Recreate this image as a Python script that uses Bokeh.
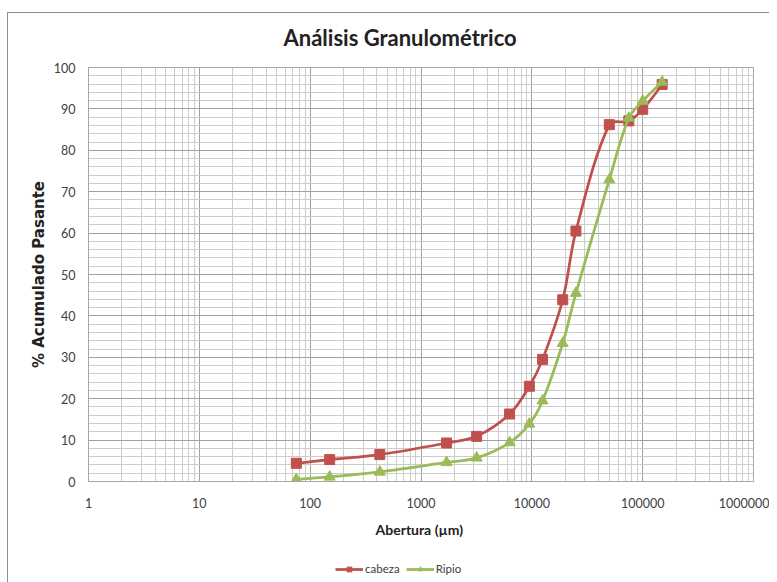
import numpy as np
from bokeh.plotting import figure
from bokeh.layouts import column
from bokeh.models import (FixedTicker, PrintfTickFormatter, Legend, LegendItem)
from bokeh.embed import file_html
from bokeh.resources import INLINE

# ---------------- data ----------------
abertura_um = [75, 150, 425, 1700, 3175, 6300, 9500, 12500, 19000, 25000,
               50000, 75000, 100000, 150000]
cabeza = [4.4, 5.3, 6.5, 9.3, 10.9, 16.3, 23.0, 29.5, 43.9, 60.5,
          86.2, 87.1, 89.9, 95.9]
ripio = [0.5, 1.1, 2.3, 4.6, 5.7, 9.4, 13.9, 19.5, 33.4, 45.5,
         72.9, 87.8, 91.9, 96.5]
x_major = [1, 10, 100, 1000, 10000, 100000, 1000000]
x_minor = [m * d for d in x_major[:-1] for m in range(2, 10)]
y_major = list(range(0, 101, 10))
y_minor = list(range(0, 101, 2))

title_text = "Análisis Granulométrico"
x_label = "Abertura  (µm)"
y_label = "% Acumulado Pasante"
series_names = ["cabeza", "Ripio"]

RED = "#C0504D"
GREEN = "#9BBB59"
FONT = "Lato"
BORDER = "#8c8c8c"

W, H_MAIN, H_LEG = 769, 541, 41
BL, BR, BT, BB = 88, 16, 67, 60
FRAME_W = W - BL - BR
FRAME_H = H_MAIN - BT - BB

p = figure(width=W, height=H_MAIN, x_axis_type="log", x_range=(1, 1e6),
           y_range=(0, 100), output_backend="svg", toolbar_location=None,
           min_border_left=BL, min_border_right=BR, min_border_top=BT,
           min_border_bottom=BB)
p.background_fill_color = "white"
p.border_fill_alpha = 0
p.outline_line_color = "#a6a6a6"
p.outline_line_width = 1

# title
p.title.text = title_text
p.title.align = "left"
p.title.offset = 195
p.title.standoff = 33
p.title.text_font = FONT
p.title.text_font_style = "bold"
p.title.text_font_size = "22px"
p.title.text_color = "#222222"

# axes
p.xaxis.ticker = FixedTicker(ticks=x_major, minor_ticks=x_minor)
p.yaxis.ticker = FixedTicker(ticks=y_major, minor_ticks=y_minor)
p.xaxis.formatter = PrintfTickFormatter(format="%d")
for ax in (p.xaxis[0], p.yaxis[0]):
    ax.axis_line_color = "#a6a6a6"
    ax.major_tick_line_color = None
    ax.minor_tick_line_color = None
    ax.major_tick_out = 0
    ax.major_tick_in = 0
    ax.minor_tick_out = 0
    ax.minor_tick_in = 0
    ax.major_label_text_font = FONT
    ax.major_label_text_font_size = "12.5px"
    ax.major_label_text_color = "#404040"
    ax.axis_label_text_font_style = "bold"
    ax.axis_label_text_color = "#222222"
p.xaxis.axis_label = x_label
p.yaxis.axis_label = y_label
p.xaxis.axis_label_text_font = FONT
p.xaxis.axis_label_text_font_size = "14px"
p.yaxis.axis_label_text_font = "DejaVu Sans"
p.yaxis.axis_label_text_font_size = "15px"
p.xaxis.major_label_standoff = 16
p.xaxis.axis_label_standoff = 10
p.yaxis.major_label_standoff = 13
p.yaxis.axis_label_standoff = 3

# grids
for g in (p.xgrid[0], p.ygrid[0]):
    g.grid_line_color = "#a0a0a0"
    g.grid_line_width = 1
    g.minor_grid_line_color = "#cccccc"
    g.minor_grid_line_width = 1


def smooth(xs, ys):
    """Spreadsheet-style smoothed line: cubic Bezier segments whose
    tangents are scaled by neighbouring chord lengths (in screen space)."""
    sx_per_dec = FRAME_W / 6.0
    sy_per_unit = FRAME_H / 100.0
    lx = np.log10(np.asarray(xs, float))
    y = np.asarray(ys, float)
    X = lx * sx_per_dec
    Y = y * sy_per_unit
    n = len(X)
    t = 1.0 / 3.0
    out_c = []
    in_c = []
    for i in range(n):
        pm = max(i - 1, 0)
        pp = min(i + 1, n - 1)
        tx, ty = X[pp] - X[pm], Y[pp] - Y[pm]
        d0 = np.hypot(X[i] - X[pm], Y[i] - Y[pm])
        d1 = np.hypot(X[pp] - X[i], Y[pp] - Y[i])
        s = d0 + d1 if d0 + d1 > 0 else 1.0
        if i == 0 or i == n - 1:
            f_in = f_out = 0.0
        else:
            f_in, f_out = t * d0 / s, t * d1 / s
        out_c.append((X[i] + tx * f_out, Y[i] + ty * f_out))
        in_c.append((X[i] - tx * f_in, Y[i] - ty * f_in))
    out = {k: [] for k in ("x0", "y0", "x1", "y1", "cx0", "cy0", "cx1", "cy1")}
    for i in range(n - 1):
        out["x0"].append(xs[i]); out["y0"].append(ys[i])
        out["x1"].append(xs[i + 1]); out["y1"].append(ys[i + 1])
        out["cx0"].append(10 ** (out_c[i][0] / sx_per_dec))
        out["cy0"].append(out_c[i][1] / sy_per_unit)
        out["cx1"].append(10 ** (in_c[i + 1][0] / sx_per_dec))
        out["cy1"].append(in_c[i + 1][1] / sy_per_unit)
    return out


# legend strip below the chart
lg = figure(width=W, height=H_LEG, x_range=(0, 1), y_range=(-1000, -999),
            output_backend="svg", toolbar_location=None,
            x_axis_location=None, y_axis_location=None,
            min_border_left=0, min_border_right=0, min_border_top=0,
            min_border_bottom=0)
lg.grid.visible = False
lg.outline_line_color = None
lg.background_fill_alpha = 0
lg.border_fill_alpha = 0

items = []
for name, vals, col, mk in ((series_names[0], cabeza, RED, "square"),
                            (series_names[1], ripio, GREEN, "triangle")):
    seg = smooth(abertura_um, vals)
    p.bezier(line_color=col, line_width=2.75, **seg)
    size = 10 if mk == "square" else 11
    p.scatter(abertura_um, vals, marker=mk, size=size,
              fill_color=col, line_color=col)
    # legend proxies (same data, outside the strip's visible range)
    ln = lg.line(abertura_um, vals, line_color=col, line_width=2.75)
    sc = lg.scatter(abertura_um, vals, marker=mk, size=size,
                    fill_color=col, line_color=col)
    items.append(LegendItem(label=name, renderers=[ln, sc]))

legend = Legend(items=items, orientation="horizontal", location=(247, 7),
                padding=0, margin=0, spacing=6, glyph_width=28, glyph_height=12,
                label_standoff=2, label_text_font=FONT, label_text_font_size="11.5px",
                label_text_color="#404040", border_line_color=None,
                background_fill_alpha=0)
lg.add_layout(legend, "center")

layout = column(p, lg, spacing=0)
layout.styles = {"background": (f"linear-gradient({BORDER},{BORDER}) 7px 12px / 1px 100% no-repeat, "
                                f"linear-gradient({BORDER},{BORDER}) 7px 12px / 100% 1px no-repeat, "
                                "#ffffff")}

open("out.html", "w").write(file_html(layout, INLINE))
